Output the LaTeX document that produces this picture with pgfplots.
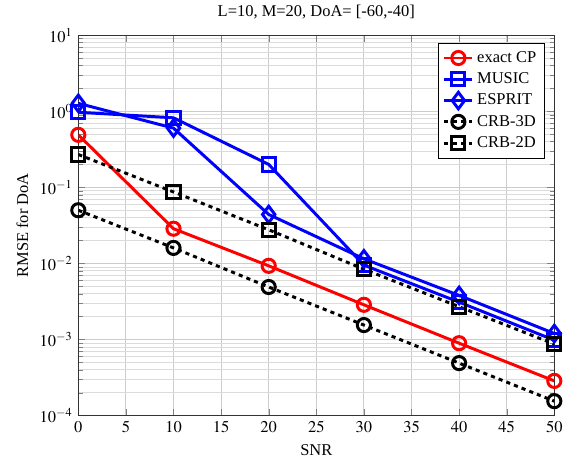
\documentclass[border=0pt]{standalone}
\usepackage{mathptmx}
\usepackage{fontspec}
\setmainfont{Liberation Serif}
\usepackage{pgfplots}
\pgfplotsset{compat=1.18}
\begin{document}
\begin{tikzpicture}
\begin{semilogyaxis}[
  scale only axis, width=289pt, height=231pt,
  xmin=0, xmax=50, ymin=1e-4, ymax=10,
  xtick={0,5,...,50},
  grid=both,
  major grid style={gray!40, line width=0.5pt},
  minor grid style={gray!28, line width=0.4pt},
  axis line style={black!80},
  xlabel={SNR}, ylabel={RMSE for DoA},
  title={L=10, M=20, DoA= [-60,-40]},
  legend style={at={(0.98,0.98)}, anchor=north east, draw=black, fill=white, font=\normalsize, row sep=0.8pt, inner ysep=3pt},
  legend cell align=left,
  every axis plot/.append style={line width=1.8pt, mark options={solid}},
  after end axis/.code={\path (rel axis cs:-0.1645,-0.1358) (rel axis cs:1.0477,1.088);},
]
\addplot[red, mark=o, mark size=4pt] coordinates {
  (0,0.49) (10,0.0286) (20,0.0093) (30,0.00286) (40,0.000895) (50,0.000286)};
\addlegendentry{exact CP}
\addplot[blue, mark=square, mark size=4pt] coordinates {
  (0,0.97) (10,0.82) (20,0.20) (30,0.0095) (40,0.0031) (50,0.00098)};
\addlegendentry{MUSIC}
\addplot[blue, mark=diamond, mark size=5pt] coordinates {
  (0,1.27) (10,0.60) (20,0.044) (30,0.0115) (40,0.0038) (50,0.0012)};
\addlegendentry{ESPRIT}
\addplot[black, dash pattern=on 2.5pt off 2.5pt, mark=o, mark size=4pt] coordinates {
  (0,0.050) (10,0.016) (20,0.0049) (30,0.00155) (40,0.00049) (50,0.000155)};
\addlegendentry{CRB-3D}
\addplot[black, dash pattern=on 2.5pt off 2.5pt, mark=square, mark size=4pt] coordinates {
  (0,0.27) (10,0.087) (20,0.0277) (30,0.0084) (40,0.0027) (50,0.00087)};
\addlegendentry{CRB-2D}
\end{semilogyaxis}
\end{tikzpicture}
\end{document}
